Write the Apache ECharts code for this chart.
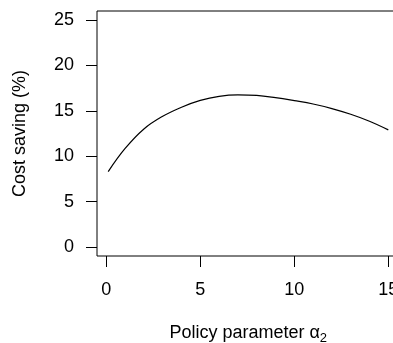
<!DOCTYPE html>
<html>
<head>
<meta charset="utf-8">
<script src="https://cdn.jsdelivr.net/npm/echarts@6/dist/echarts.min.js"></script>
<style>html,body{margin:0;padding:0;background:#fff}#c{width:393px;height:343px}</style>
</head>
<body>
<div id="c"></div>
<script>
const alpha = [0.1, 1, 2, 3, 4, 5, 6, 7, 8, 9, 10, 11, 12, 13, 14, 15];
const saving = [8.3, 10.85, 13.0, 14.4, 15.4, 16.15, 16.6, 16.76, 16.7, 16.45, 16.12, 15.75, 15.25, 14.62, 13.85, 12.9];
const xTicks = [0, 5, 10, 15];
const yTicks = [0, 5, 10, 15, 20, 25];

const FONT = 'Liberation Sans';
const chart = echarts.init(document.getElementById('c'));
chart.setOption({
  animation: false,
  backgroundColor: '#fff',
  grid: { left: 97, top: 11, width: 302.5, height: 245, show: true, borderColor: '#000', borderWidth: 1,
    backgroundColor: 'transparent', containLabel: false, outerBoundsMode: 'none' },
  xAxis: {
    type: 'value', min: -0.496, max: 15.596,
    axisLine: { show: false, onZero: false },
    splitLine: { show: false },
    axisTick: { show: true, inside: false, customValues: xTicks, length: 11, lineStyle: { color: '#000', width: 1 } },
    axisLabel: { customValues: xTicks, color: '#000', fontFamily: FONT, fontSize: 18, margin: 25 },
    name: 'Policy parameter {a|α}{s|2}',
    nameLocation: 'middle', nameGap: 66,
    nameTextStyle: { color: '#000', fontFamily: FONT, fontSize: 18,
      rich: { a: { fontFamily: FONT, fontSize: 18, color: '#000' }, s: { fontFamily: FONT, fontSize: 13, color: '#000', padding: [10, 0, 0, 0] } } }
  },
  yAxis: {
    type: 'value', min: -1, max: 26,
    axisLine: { show: false, onZero: false },
    splitLine: { show: false },
    axisTick: { show: true, inside: false, customValues: yTicks, length: 11, lineStyle: { color: '#000', width: 1 } },
    axisLabel: { customValues: yTicks, color: '#000', fontFamily: FONT, fontSize: 18, margin: 23 },
    name: 'Cost saving (%)',
    nameLocation: 'middle', nameGap: 68, nameRotate: 90,
    nameTextStyle: { color: '#000', fontFamily: FONT, fontSize: 18 }
  },
  series: [{
    type: 'line', data: alpha.map((x, i) => [x, saving[i]]),
    smooth: 0.4, showSymbol: false, symbol: 'none', clip: true,
    lineStyle: { color: '#000', width: 1.2 }
  }]
});
</script>
</body>
</html>
